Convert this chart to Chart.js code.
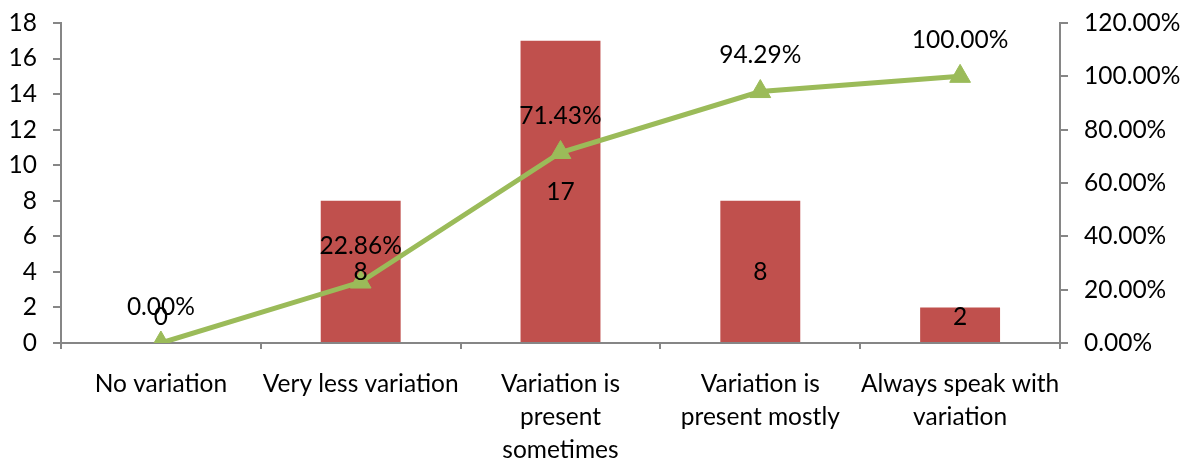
<!DOCTYPE html>
<html>
<head>
<meta charset="utf-8">
<script src="https://cdn.jsdelivr.net/npm/chart.js@4"></script>
<style>
  html, body { margin: 0; padding: 0; background: #fff; }
  #wrap { width: 1188px; height: 459px; }
</style>
</head>
<body>
<div id="wrap"><canvas id="c" width="1188" height="459"></canvas></div>
<script>
// Response categories (wrapped onto several lines)
const categories = [
  ['No variation'],
  ['Very less variation'],
  ['Variation is', 'present', 'sometimes'],
  ['Variation is', 'present mostly'],
  ['Always speak with', 'variation']
];
// Number of respondents per category
const counts = [0, 8, 17, 8, 2];
// Cumulative percentage
const cumulativePct = [0.00, 22.86, 71.43, 94.29, 100.00];
// Axis ranges
const countAxis = { min: 0, max: 18, step: 2 };
const pctAxis = { min: 0, max: 120, step: 20 };

const FONT = 'Lato, "Open Sans", sans-serif';
const FONT_SIZE = 24.5;
const AXIS_GREY = '#868686';

// Draws value labels for the bars (centred) and the line (above each point)
const valueLabels = {
  id: 'valueLabels',
  afterDatasetsDraw(chart) {
    const ctx = chart.ctx;
    ctx.save();
    ctx.font = FONT_SIZE + 'px ' + FONT;
    ctx.fillStyle = '#000';
    ctx.textAlign = 'center';
    ctx.textBaseline = 'middle';
    const yCount = chart.scales.y;
    const zeroY = yCount.getPixelForValue(0);
    chart.getDatasetMeta(0).data.forEach((bar, i) => {
      const mid = (bar.y + zeroY) / 2;
      const y = Math.min(mid, zeroY - 26);
      ctx.fillText(String(counts[i]), bar.x, y);
    });
    chart.getDatasetMeta(1).data.forEach((pt, i) => {
      ctx.fillText(cumulativePct[i].toFixed(2) + '%', pt.x, pt.y - 36);
    });
    ctx.restore();
  }
};

// Vertical axes: fixed width, no extra top/bottom padding from labels
function fixVertical(width) {
  return function (scale) {
    scale.width = width;
    scale.paddingTop = 0;
    scale.paddingBottom = 0;
  };
}

new Chart(document.getElementById('c'), {
  type: 'bar',
  data: {
    labels: categories,
    datasets: [
      {
        type: 'bar',
        data: counts,
        backgroundColor: '#C0504D',
        yAxisID: 'y',
        categoryPercentage: 1.0,
        barPercentage: 0.4,
        order: 2
      },
      {
        type: 'line',
        data: cumulativePct,
        borderColor: '#9BBB59',
        backgroundColor: '#9BBB59',
        borderWidth: 5,
        pointStyle: 'triangle',
        pointRadius: 12,
        pointBorderWidth: 1,
        pointBorderColor: '#9BBB59',
        pointBackgroundColor: '#9BBB59',
        tension: 0,
        yAxisID: 'y1',
        order: 1
      }
    ]
  },
  options: {
    responsive: false,
    animation: false,
    devicePixelRatio: 1,
    layout: { padding: { top: 23, left: 0, right: 0, bottom: 0 } },
    plugins: {
      legend: { display: false },
      tooltip: { enabled: false },
      title: { display: false }
    },
    scales: {
      x: {
        grid: {
          display: true,
          offset: true,
          drawOnChartArea: false,
          drawTicks: true,
          tickLength: 6,
          color: AXIS_GREY,
          lineWidth: 2
        },
        border: { display: true, color: AXIS_GREY, width: 2 },
        ticks: {
          color: '#000',
          font: { family: FONT, size: FONT_SIZE, lineHeight: 1.347 },
          padding: 19,
          autoSkip: false,
          maxRotation: 0,
          minRotation: 0
        },
        afterFit(scale) {
          scale.height = 116;
          scale.paddingLeft = 0;
          scale.paddingRight = 0;
        }
      },
      y: {
        position: 'left',
        min: countAxis.min,
        max: countAxis.max,
        grid: {
          drawOnChartArea: false,
          drawTicks: true,
          tickLength: 8,
          color: AXIS_GREY,
          lineWidth: 2
        },
        border: { display: true, color: AXIS_GREY, width: 2 },
        ticks: {
          stepSize: countAxis.step,
          color: '#000',
          padding: 16,
          font: { family: FONT, size: FONT_SIZE }
        },
        afterFit: fixVertical(61)
      },
      y1: {
        position: 'right',
        min: pctAxis.min,
        max: pctAxis.max,
        grid: {
          drawOnChartArea: false,
          drawTicks: true,
          tickLength: 8,
          color: AXIS_GREY,
          lineWidth: 2
        },
        border: { display: true, color: AXIS_GREY, width: 2 },
        ticks: {
          stepSize: pctAxis.step,
          color: '#000',
          padding: 16,
          font: { family: FONT, size: FONT_SIZE },
          callback: (v) => v.toFixed(2) + '%'
        },
        afterFit: fixVertical(128)
      }
    }
  },
  plugins: [valueLabels]
});
</script>
</body>
</html>
